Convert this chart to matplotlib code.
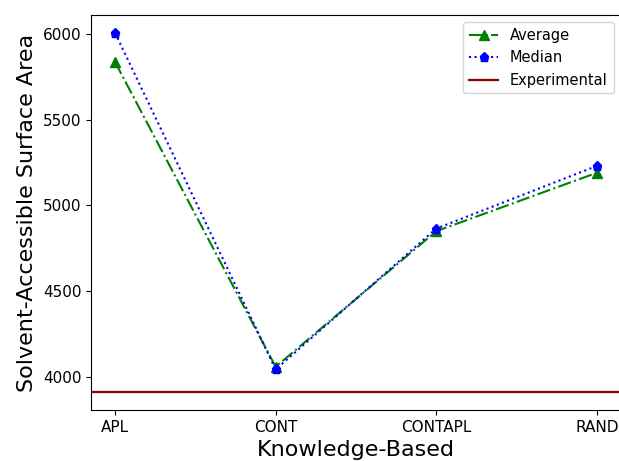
import matplotlib
matplotlib.use("Agg")
import matplotlib.pyplot as plt

# data
methods = ["APL", "CONT", "CONTAPL", "RAND"]
average = [5835, 4060, 4850, 5190]
median = [6005, 4045, 4865, 5230]
experimental = 3913

fig = plt.figure(figsize=(6.19, 4.61), dpi=100)
ax = fig.add_axes([0.147, 0.1106, 0.856, 0.857])

x = range(len(methods))
ax.plot(x, average, color="g", linestyle="-.", marker="^", markersize=6.5, linewidth=1.5, label="Average")
ax.plot(x, median, color="b", linestyle=":", marker="p", markersize=6.5, linewidth=1.5, label="Median")
ax.axhline(experimental, color="darkred", linewidth=1.6, label="Experimental")

ax.set_xticks(list(x))
ax.set_xticklabels(methods, fontsize=11)
ax.tick_params(axis="y", labelsize=11)
ax.set_xlabel("Knowledge-Based", fontsize=16)
ax.set_ylabel("Solvent-Accessible Surface Area", fontsize=16)
ax.legend(loc="upper right", fontsize=10.5)

fig.savefig("out.png", dpi=100)
